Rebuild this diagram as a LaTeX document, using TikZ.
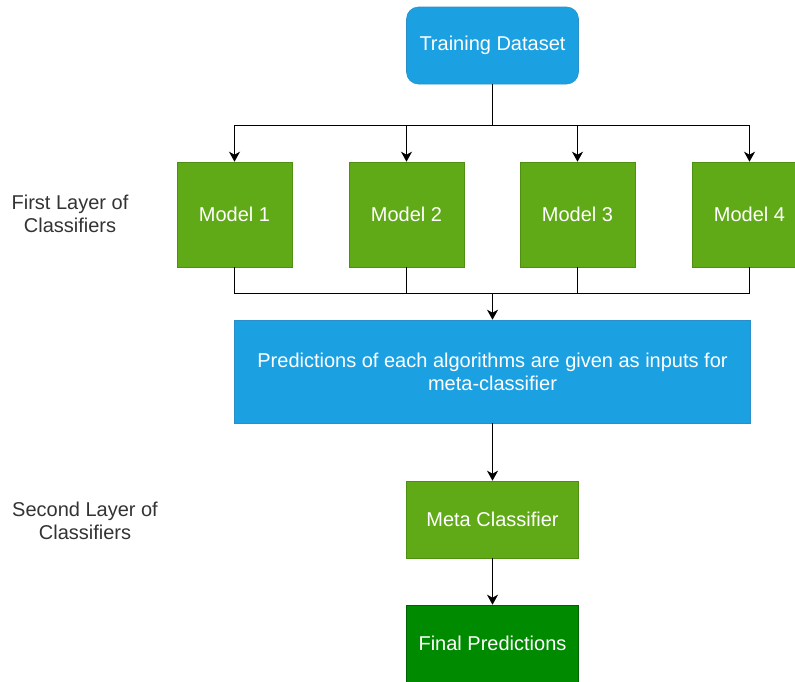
\documentclass[tikz,border=0pt]{standalone}
\usepackage{fontspec}
\setmainfont{Liberation Sans}
\usetikzlibrary{arrows.meta}
\definecolor{boxblue}{HTML}{1BA1E2}
\definecolor{lineblue}{HTML}{2A8FC8}
\definecolor{boxgreen}{HTML}{60A917}
\definecolor{linegreen}{HTML}{4E8F12}
\definecolor{darkgreen}{HTML}{008A00}
\definecolor{labelgray}{HTML}{333333}
\begin{document}
\begin{tikzpicture}[x=1pt,y=-1pt,
    every node/.style={font=\fontsize{20}{23}\selectfont, text=white, inner sep=0pt},
    bluebox/.style={fill=boxblue, draw=lineblue, line width=0.6pt},
    modelbox/.style={fill=boxgreen, draw=linegreen, line width=0.6pt, minimum width=115pt, minimum height=105pt},
    layerlabel/.style={text=labelgray, align=center},
    link/.style={line width=1.5pt, black},
    arr/.style={-{Stealth[length=10pt,width=11pt,inset=3pt]}, line width=1.5pt, black}]
    \useasboundingbox (0,0) rectangle (795,681);
    \clip (0,0) rectangle (795,681);
    % input
    \node[bluebox, rounded corners=12pt, minimum width=172pt, minimum height=77pt] (train) at (492.5,45.5) {Training Dataset};
    % first layer
    \node[modelbox] (m1) at (234.5,214.5) {Model 1};
    \node[modelbox] (m2) at (406.5,214.5) {Model 2};
    \node[modelbox] (m3) at (577.5,214.5) {Model 3};
    \node[modelbox] (m4) at (749.5,214.5) {Model 4};
    \node[layerlabel] (first) at (70,214) {First Layer of\\Classifiers};
    \coordinate (topbus) at (492.5,125.5);
    \coordinate (botbus) at (492.5,293.5);
    \foreach \i in {1,...,4}
        \draw[arr] (train.south) -- (topbus) -| (m\i.north);
    \foreach \i in {1,...,4}
        \draw[link] (m\i.south) |- (botbus);
    % predictions
    \node[bluebox, minimum width=516pt, minimum height=103pt, align=center] (pred) at (492.5,371.5)
        {Predictions of each algorithms are given as inputs for\\meta-classifier};
    \draw[arr] (botbus) -- (pred.north);
    % second layer
    \node[fill=boxgreen, draw=linegreen, line width=0.6pt, minimum width=172pt, minimum height=77pt] (meta) at (492.5,519.5) {Meta Classifier};
    \node[layerlabel] (second) at (85,521) {Second Layer of\\Classifiers};
    \draw[arr] (pred.south) -- (meta.north);
    \node[fill=darkgreen, draw=darkgreen!70!black, line width=0.6pt, minimum width=172pt, minimum height=77pt] (final) at (492.5,643.5) {Final Predictions};
    \draw[arr] (meta.south) -- (final.north);
\end{tikzpicture}
\end{document}
